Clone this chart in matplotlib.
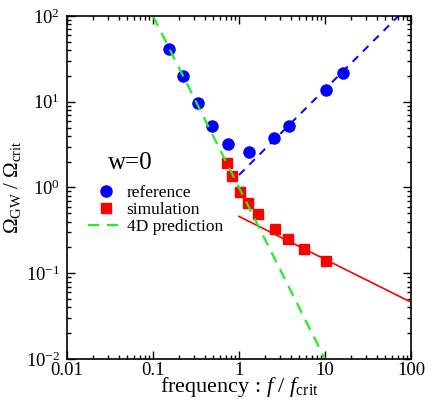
import numpy as np
import matplotlib
matplotlib.use("Agg")
import matplotlib.pyplot as plt

# DATA
ref_f   = [0.155, 0.225, 0.333, 0.49, 0.745, 1.30, 2.57, 3.78, 10.4, 16.2]
ref_om  = [41.6, 19.8, 9.75, 5.2, 3.19, 2.59, 3.78, 5.26, 13.8, 21.6]

sim_f   = [0.731, 0.836, 1.035, 1.26, 1.68, 2.60, 3.74, 5.74, 10.2]
sim_om  = [1.91, 1.37, 0.893, 0.654, 0.487, 0.325, 0.249, 0.192, 0.139]

# fitted power laws (endpoints)
pred_f  = [0.01, 100.0]
pred_om = [1e4, 1e-4]          # 4D prediction ~ f^-2
ref_fit_f  = [1.0, 100.0]
ref_fit_om = [1.4, 140.0]      # ~ f
sim_fit_f  = [1.0, 100.0]
sim_fit_om = [0.46, 0.046]     # ~ f^-1/2

plt.rcParams['font.family'] = ['Liberation Serif', 'DejaVu Serif']
plt.rcParams['mathtext.fontset'] = 'custom'
plt.rcParams['mathtext.rm'] = 'Liberation Serif'
plt.rcParams['mathtext.it'] = 'Liberation Serif:italic'

fig = plt.figure(figsize=(4.36, 4.00), dpi=100)
ax = fig.add_axes([67/436, 1-359/400, 344/436, 343/400])

ax.plot(ref_fit_f, ref_fit_om, color='blue', ls=(0, (4, 3.5)), lw=1.4)
ax.plot(sim_fit_f, sim_fit_om, color='red', ls='-', lw=1.2)
ax.plot(ref_f, ref_om, 'o', color='blue', ms=8, label='reference')
ax.plot(sim_f, sim_om, 's', color='red', ms=7.5, label='simulation')
ax.plot(pred_f, pred_om, color='#22ee22', ls=(0, (5, 3.5)), lw=1.6, label='4D prediction')

ax.set_xscale('log')
ax.set_yscale('log')
ax.set_xlim(0.01, 100)
ax.set_ylim(0.01, 100)
ax.set_xticks([0.01, 0.1, 1, 10, 100])
ax.set_xticklabels(['0.01', '0.1', '1', '10', '100'])

ax.tick_params(which='both', direction='in', top=True, right=True, labelsize=13.5, width=1)
ax.tick_params(which='major', length=6, pad=5)
ax.tick_params(axis='x', which='major', pad=2)
ax.tick_params(which='minor', length=3)
for s in ax.spines.values():
	s.set_linewidth(1.2)

ax.set_xlabel(r'frequency : $f$ / $f_{\mathrm{crit}}$', fontsize=16, labelpad=-2.5)
ax.set_ylabel(r'$\Omega_{\mathrm{GW}}$ / $\Omega_{\mathrm{crit}}$', fontsize=15, labelpad=2)

#LEGEND + SEPARATE TITLE
ax.legend(loc='upper left', bbox_to_anchor=(0.037, 0.532), frameon=False,
	fontsize=12.5, handlelength=2.0, handletextpad=0.2, labelspacing=0.05, borderpad=0)
ax.text(0.119, 0.571, 'w=0', transform=ax.transAxes, fontsize=18, va='center', ha='left')

fig.savefig('out.png', dpi=100)
